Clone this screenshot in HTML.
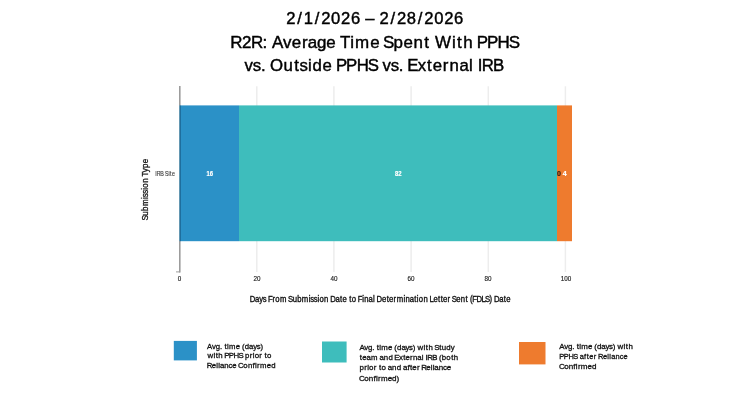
<!DOCTYPE html>
<html><head><meta charset="utf-8"><title>R2R Chart</title>
<style>
html,body{margin:0;padding:0;background:#fff;width:750px;height:400px;overflow:hidden}
svg{display:block;will-change:transform}
text{font-family:"Liberation Sans",sans-serif}
</style></head><body>
<svg width="750" height="400" viewBox="0 0 750 400">
<rect x="0" y="0" width="750" height="400" fill="#fff"/>
<!-- gridlines -->
<g stroke="#ededed" stroke-width="1.5">
<line x1="256.8" y1="86.3" x2="256.8" y2="272"/>
<line x1="333.9" y1="86.3" x2="333.9" y2="272"/>
<line x1="411.1" y1="86.3" x2="411.1" y2="272"/>
<line x1="488.3" y1="86.3" x2="488.3" y2="272"/>
<line x1="565.4" y1="86.3" x2="565.4" y2="272"/>
</g>
<!-- axis -->
<line x1="179.8" y1="86" x2="179.8" y2="272.4" stroke="#9c9c9c" stroke-width="1.6"/>
<line x1="176" y1="271.9" x2="180" y2="271.9" stroke="#9c9c9c" stroke-width="1"/>
<!-- bars -->
<rect x="179.5" y="105.4" width="59.5" height="135.8" fill="#2b91c7"/>
<rect x="180" y="105.4" width="1" height="135.8" fill="rgba(0,30,60,0.3)"/>
<rect x="239" y="105.4" width="318" height="135.8" fill="#3ebdbc"/>
<rect x="557" y="105.4" width="15" height="135.8" fill="#ee7b2e"/>
<!-- bar labels -->
<g font-size="7" font-weight="bold" text-anchor="middle">
<text x="209.8" y="175.5" fill="#fff" stroke="#fff" stroke-width="0.2" textLength="6.6" lengthAdjust="spacingAndGlyphs">16</text>
<text x="398.2" y="175.5" fill="#fff" stroke="#fff" stroke-width="0.2" textLength="6.6" lengthAdjust="spacingAndGlyphs">82</text>
<text x="559" y="175.5" fill="#2a1a10" stroke="#2a1a10" stroke-width="0.15">0</text>
<text x="564.7" y="175.5" fill="#fff" stroke="#fff" stroke-width="0.2">4</text>
</g>
<!-- tick labels -->
<g font-size="6.3" fill="#222" stroke="#222" stroke-width="0.15" text-anchor="middle">
<text x="179.5" y="281.4">0</text>
<text x="257" y="281.4">20</text>
<text x="334" y="281.4">40</text>
<text x="411" y="281.4">60</text>
<text x="488" y="281.4">80</text>
<text x="566" y="281.4">100</text>
</g>
<!-- legend swatches -->
<rect x="173.8" y="340.9" width="23.1" height="19.5" fill="#2b91c7"/>
<rect x="322" y="341.5" width="24.6" height="21" fill="#3ebdbc"/>
<rect x="519" y="342" width="26.5" height="22.4" fill="#ee7b2e"/>
<!-- text -->
<g fill="#000" stroke="#000" stroke-width="0.42">
<text transform="translate(285.85 24.40) scale(1.0000 1)" x="0.34 11.39 17.82 28.87 35.30 45.22 55.14 65.06 74.54 79.32 88.71 93.57 104.62 111.05 120.97 132.02 138.45 148.37 158.29 168.21" y="0" font-size="16.6">2/1/2026 – 2/28/2026</text>
<text transform="translate(231.16 48.00) scale(1.0223 1)" x="-0.80 10.63 19.30 30.75 35.47 39.94 50.83 59.27 69.22 74.90 83.99 93.09 102.33 106.40 116.48 121.26 135.96 145.20 148.53 158.88 168.67 178.46 188.82 194.19 199.35 216.05 220.99 226.91 236.42 240.30 250.19 260.64 271.45" y="0" font-size="16.6">R2R: Average Time Spent With PPHS</text>
<text transform="translate(244.35 71.40) scale(1.0119 1)" x="0.22 8.28 16.35 20.98 25.41 38.74 49.37 54.54 62.85 67.38 77.27 86.58 90.53 100.52 111.08 122.01 131.87 136.58 144.64 152.71 157.33 161.01 171.31 180.64 186.17 196.20 202.80 212.52 222.14 226.08 230.71 234.70 245.67" y="0" font-size="16.6">vs. Outside PPHS vs. External IRB</text>
</g>
<g fill="#111" stroke="#111" stroke-width="0.35">
<text transform="translate(249.80 301.60) scale(0.9063 1)" x="-0.13 5.79 10.30 14.24 18.13 19.99 25.02 28.10 33.25 40.50 42.12 47.29 52.31 57.45 64.95 66.73 70.47 74.61 76.80 81.82 86.59 88.72 94.65 99.63 102.31 106.95 109.63 112.47 117.24 119.10 124.04 126.22 131.02 135.82 137.76 139.88 145.90 151.00 153.69 158.68 162.03 169.53 171.71 176.51 181.49 184.35 186.54 191.56 196.33 198.23 202.61 207.72 210.57 213.26 218.25 221.23 222.84 227.88 232.76 237.96 240.64 242.93 245.39 250.05 255.69 259.42 264.48 267.24 269.37 275.29 280.27 282.96" y="0" font-size="8.5">Days From Submission Date to Final Determination Letter Sent (FDLS) Date</text>
</g>
<g fill="#111" stroke="#111" stroke-width="0.3">
<text transform="translate(207.20 348.70) scale(0.9781 1)" x="-0.08 4.98 8.71 13.01 15.12 17.60 20.25 22.39 29.21 33.51 35.64 38.42 42.86 47.04 50.69 54.42" y="0" font-size="7.9">Avg. time (days)</text>
<text transform="translate(207.20 358.30) scale(0.9959 1)" x="0.25 6.33 8.56 11.20 15.56 17.25 21.73 26.47 31.38 35.90 38.06 42.74 45.69 47.66 52.34 55.06 57.49 60.05" y="0" font-size="7.9">with PPHS prior to</text>
<text transform="translate(207.20 367.90) scale(0.9866 1)" x="-0.47 4.59 9.10 11.11 12.90 17.30 21.68 25.49 29.76 31.34 36.64 41.26 45.95 48.46 50.56 53.62 60.39 64.88" y="0" font-size="7.9">Reliance Confirmed</text>
<text transform="translate(359.50 350.00) scale(0.9949 1)" x="-0.12 4.86 8.53 12.77 14.85 17.29 19.90 21.96 28.69 32.93 35.01 37.73 42.10 46.21 49.80 53.48 56.00 58.33 64.41 66.65 69.29 73.65 75.10 80.09 82.73 87.30 91.77" y="0" font-size="7.9">Avg. time (days) with Study</text>
<text transform="translate(359.50 360.20) scale(0.9908 1)" x="0.36 2.81 7.07 11.55 18.22 20.20 24.58 29.17 33.55 35.13 39.81 44.07 46.51 51.09 54.02 58.40 62.82 64.59 66.67 68.39 73.35 78.25 80.34 83.08 87.67 92.54 95.19" y="0" font-size="7.9">team and External IRB (both</text>
<text transform="translate(359.50 370.40) scale(1.0084 1)" x="0.06 4.69 7.60 9.53 14.17 16.85 19.26 21.77 26.11 28.03 32.34 36.84 41.17 43.09 47.50 50.04 52.42 56.93 59.61 61.16 66.12 70.56 72.53 74.25 78.56 82.85 86.57" y="0" font-size="7.9">prior to and after Reliance</text>
<text transform="translate(359.60 380.70) scale(1.0146 1)" x="-0.58 4.60 9.08 13.67 16.13 18.15 21.07 27.69 32.05 36.47" y="0" font-size="7.9">Confirmed)</text>
<text transform="translate(559.50 349.10) scale(1.0010 1)" x="-0.13 4.82 8.46 12.68 14.75 17.18 19.77 21.80 28.50 32.72 34.79 37.49 41.83 45.92 49.48 53.14 55.65 57.96 64.01 66.23 68.85" y="0" font-size="7.9">Avg. time (days) with</text>
<text transform="translate(559.50 359.20) scale(0.9431 1)" x="-0.27 4.47 9.48 14.66 19.35 21.48 26.12 28.83 31.45 36.22 39.07 40.84 46.11 50.76 52.87 54.80 59.40 63.97 67.97" y="0" font-size="7.9">PPHS after Reliance</text>
<text transform="translate(559.50 369.00) scale(1.0159 1)" x="-0.58 4.59 9.07 13.66 16.11 18.13 21.04 27.65 32.01" y="0" font-size="7.9">Confirmed</text>
</g>
<text transform="translate(155.30 175.60) scale(0.8519 1)" x="0.07 1.66 5.91 10.03 11.38 15.37 17.32 19.49" y="0" font-size="6.3" fill="#333" stroke="#333" stroke-width="0.1">IRB Site</text>
<text transform="translate(148.1 220.00) rotate(-90) scale(0.9386 1)" x="-0.61 4.61 9.69 14.91 22.48 24.30 28.08 32.25 34.49 39.58 44.39 46.42 51.00 55.49 60.43" y="0" font-size="8.5" fill="#111" stroke="#111" stroke-width="0.3">Submission Type</text>
</svg>
</body></html>
